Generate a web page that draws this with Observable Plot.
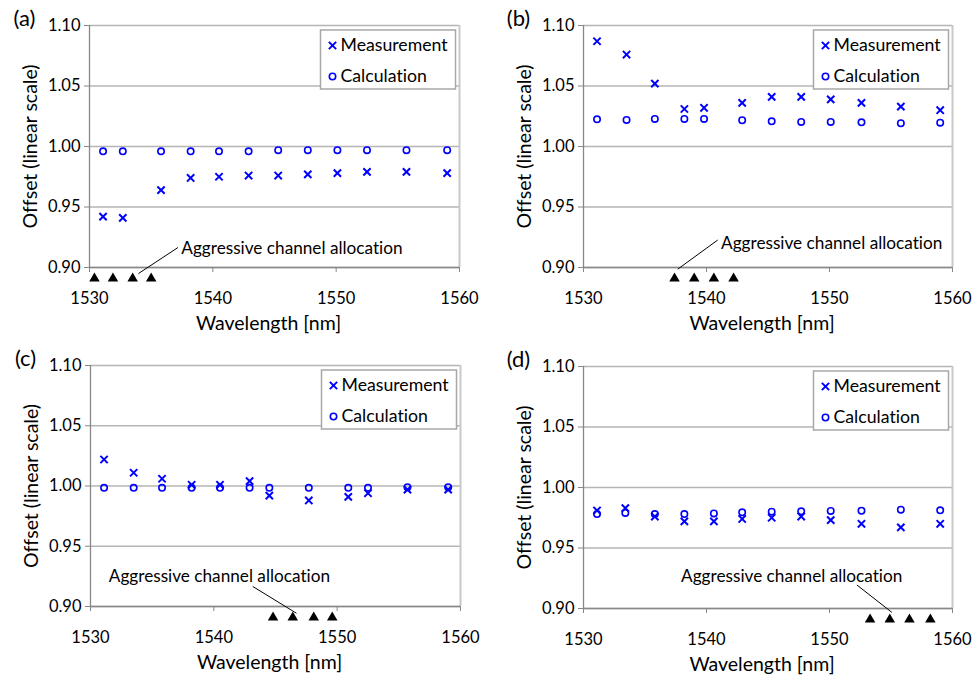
<!DOCTYPE html>
<html><head><meta charset="utf-8">
<script src="https://cdn.jsdelivr.net/npm/d3@7"></script>
<script src="https://cdn.jsdelivr.net/npm/@observablehq/plot@0.6"></script>
<style>
body{margin:0;background:#fff;}
#wrap{position:relative;width:974px;height:676px;overflow:hidden;}
.panel{position:absolute;}
.panel svg{overflow:visible;}
.panel svg text{font-variant-ligatures:none;font-feature-settings:"liga" 0, "clig" 0;}
</style></head><body><div id="wrap"></div>
<script>
// ---- data ----
const xTicks = [1530, 1540, 1550, 1560];
const yTicks = [0.90, 0.95, 1.00, 1.05, 1.10];
const seriesNames = ["Measurement", "Calculation"];
const noteText = "Aggressive channel allocation";
const xTitle = "Wavelength [nm]";
const yTitle = "Offset (linear scale)";

const wlA   = [1531.1, 1532.7, 1535.8, 1538.2, 1540.5, 1542.9, 1545.3, 1547.7, 1550.1, 1552.5, 1555.7, 1559.0];
const measA = [0.942, 0.941, 0.964, 0.974, 0.975, 0.976, 0.976, 0.977, 0.978, 0.979, 0.979, 0.978];
const calcA = [0.996, 0.996, 0.996, 0.996, 0.996, 0.996, 0.997, 0.997, 0.997, 0.997, 0.997, 0.997];
const aggrA = [1530.4, 1531.9, 1533.5, 1535.0];

const wlB   = [1531.1, 1533.5, 1535.8, 1538.2, 1539.8, 1542.9, 1545.3, 1547.7, 1550.1, 1552.6, 1555.8, 1559.0];
const measB = [1.087, 1.076, 1.052, 1.031, 1.032, 1.036, 1.041, 1.041, 1.039, 1.036, 1.033, 1.030];
const calcB = [1.0225, 1.022, 1.0228, 1.0228, 1.0228, 1.0217, 1.0208, 1.0203, 1.0203, 1.020, 1.0192, 1.0197];
const aggrB = [1537.4, 1539.0, 1540.6, 1542.2];

const wlC   = [1531.1, 1533.5, 1535.8, 1538.2, 1540.5, 1542.9, 1544.5, 1547.7, 1550.9, 1552.5, 1555.7, 1559.0];
const measC = [1.022, 1.011, 1.006, 1.001, 1.001, 1.004, 0.992, 0.988, 0.991, 0.994, 0.997, 0.997];
const calcC = [0.9985, 0.9985, 0.9985, 0.9985, 0.9985, 0.9985, 0.9985, 0.9985, 0.9985, 0.9985, 0.999, 0.999];
const aggrC = [1544.8, 1546.4, 1548.1, 1549.6];

const wlD   = [1531.1, 1533.4, 1535.8, 1538.2, 1540.6, 1542.9, 1545.3, 1547.7, 1550.1, 1552.6, 1555.8, 1559.0];
const measD = [0.981, 0.983, 0.976, 0.972, 0.972, 0.974, 0.975, 0.976, 0.973, 0.970, 0.967, 0.970];
const calcD = [0.978, 0.979, 0.978, 0.978, 0.9786, 0.9795, 0.980, 0.9803, 0.9806, 0.9808, 0.9817, 0.9811];
const aggrD = [1553.3, 1554.9, 1556.5, 1558.2];

// ---- layout ----
const panels = [
  {label:"(a)", wl:wlA, meas:measA, calc:calcA, aggr:aggrA, left:0,   top:0,
   m:{l:89, r:28, t:25, b:71}, note:{tx:1537.44, ty:0.9154, x1:1537.17, y1:0.9165, x2:1533.97, y2:0.895}},
  {label:"(b)", wl:wlB, meas:measB, calc:calcB, aggr:aggrB, left:487, top:0,
   m:{l:96, r:22, t:25, b:71}, note:{tx:1541.18, ty:0.9198, x1:1540.91, y1:0.9227, x2:1537.66, y2:0.8986}},
  {label:"(c)", wl:wlC, meas:measC, calc:calcC, aggr:aggrC, left:0,   top:338,
   m:{l:90, r:27, t:27, b:70}, note:{tx:1531.48, ty:0.9248, x1:1543.16, y1:0.9166, x2:1546.70, y2:0.8944}},
  {label:"(d)", wl:wlD, meas:measD, calc:calcD, aggr:aggrD, left:487, top:338,
   m:{l:96, r:22, t:28, b:68}, note:{tx:1537.93, ty:0.9262, x1:1552.23, y1:0.9194, x2:1555.07, y2:0.8968}}
];

const FONT = "Lato, 'Open Sans', sans-serif";
const BLUE = "#0000ff";
const W = 487, H = 338;

function makePanel(p) {
  const m = p.m;
  const pw = W - m.l - m.r, ph = H - m.t - m.b;
  const meas = p.wl.map((w, i) => ({w, v: p.meas[i]}));
  const calc = p.wl.map((w, i) => ({w, v: p.calc[i]}));
  return Plot.plot({
    width: W, height: H,
    marginLeft: m.l, marginRight: m.r, marginTop: m.t, marginBottom: m.b,
    x: {domain: [1530, 1560]},
    y: {domain: [0.9, 1.1]},
    style: {fontFamily: FONT, fontSize: "16px", color: "#000", background: "transparent"},
    marks: [
      Plot.gridY(yTicks, {stroke: "#b5b5b5", strokeOpacity: 1, strokeWidth: 1.3}),
      Plot.ruleX([1560], {stroke: "#c8c8c8", strokeWidth: 2}),
      Plot.ruleX([1530], {stroke: "#878787", strokeWidth: 1.3}),
      Plot.ruleY([0.9], {stroke: "#878787", strokeWidth: 1.3}),
      Plot.axisY(yTicks, {tickFormat: d => d.toFixed(2), tickSize: 5, tickPadding: 4, stroke: "#878787", fill: "#000", label: null, fontSize: 16.5}),
      Plot.axisX(xTicks, {tickFormat: d => String(d), tickSize: 5, tickPadding: 20, stroke: "#878787", fill: "#000", label: null, fontSize: 16.5}),
      Plot.text([yTitle], {frameAnchor: "left", dx: -59, rotate: -90, textAnchor: "middle", lineAnchor: "middle", fontSize: 19.5, text: d => d}),
      Plot.text([xTitle], {frameAnchor: "bottom", dx: -6, dy: 56, textAnchor: "middle", lineAnchor: "middle", fontSize: 19.5, text: d => d}),
      Plot.text([p.label], {frameAnchor: "top-left", dx: -65, dy: -6.5, textAnchor: "middle", lineAnchor: "middle", fontSize: 22, text: d => d}),
      // legend box
      Plot.frame({insetLeft: pw - 139, insetRight: 4, insetTop: 4.5, insetBottom: ph - 63.5,
                  fill: "#fff", stroke: "#a8a8a8", strokeWidth: 1.5}),
      Plot.dot([seriesNames[0]], {frameAnchor: "top-right", dx: -127, dy: 20, symbol: "times", r: 3.4, stroke: BLUE, strokeWidth: 2}),
      Plot.dot([seriesNames[1]], {frameAnchor: "top-right", dx: -127, dy: 51, symbol: "circle", r: 3.2, stroke: BLUE, strokeWidth: 1.6}),
      Plot.text([seriesNames[0]], {frameAnchor: "top-right", dx: -119, dy: 20, textAnchor: "start", lineAnchor: "middle", fontSize: 17.7, text: d => d}),
      Plot.text([seriesNames[1]], {frameAnchor: "top-right", dx: -119, dy: 51, textAnchor: "start", lineAnchor: "middle", fontSize: 17.7, text: d => d}),
      // annotation
      Plot.link([p.note], {x1: "x1", y1: "y1", x2: "x2", y2: "y2", stroke: "#000", strokeWidth: 1}),
      Plot.text([p.note], {x: "tx", y: "ty", text: () => noteText, textAnchor: "start", lineAnchor: "middle", fontSize: 17.2}),
      Plot.dot(p.aggr, {x: d => d, frameAnchor: "bottom", dy: 11, symbol: "triangle", r: 3.9, fill: "#000", stroke: null}),
      // data
      Plot.dot(calc, {x: "w", y: "v", symbol: "circle", r: 3.2, stroke: BLUE, strokeWidth: 1.6, fill: "none"}),
      Plot.dot(meas, {x: "w", y: "v", symbol: "times", r: 3.4, stroke: BLUE, strokeWidth: 2})
    ]
  });
}

const wrap = document.getElementById("wrap");
for (const p of panels) {
  const div = document.createElement("div");
  div.className = "panel";
  div.style.left = p.left + "px";
  div.style.top = p.top + "px";
  div.appendChild(makePanel(p));
  wrap.appendChild(div);
}
</script>
</body></html>
